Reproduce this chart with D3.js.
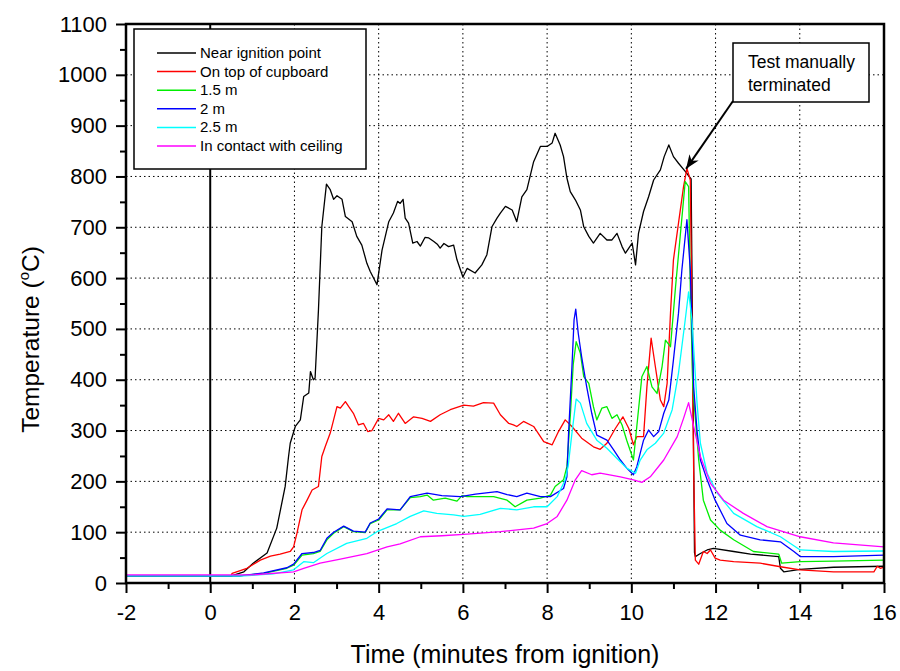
<!DOCTYPE html>
<html><head><meta charset="utf-8">
<script src="https://cdn.jsdelivr.net/npm/d3@7"></script>
<style>
body{margin:0;background:#fff;}
svg{display:block;font-family:"Liberation Sans",Arial,sans-serif;}
</style></head>
<body><svg id="c" width="900" height="671"></svg>
<script>
// ---- data: [time (min), temperature (°C)] ----
const nearIgnition = [[-2,14],[0.5,14],[0.8,22],[1.02,39],[1.35,59],[1.58,108],[1.78,190],[1.86,249],[1.9,275],[2.02,308],[2.14,321],[2.22,367],[2.34,374],[2.38,416],[2.45,400],[2.49,403],[2.57,537],[2.65,701],[2.76,785],[2.85,774],[2.93,755],[3.01,762],[3.13,755],[3.21,721],[3.37,711],[3.48,682],[3.6,665],[3.72,629],[3.8,613],[3.96,587],[4.08,655],[4.24,711],[4.35,728],[4.45,751],[4.51,747],[4.58,755],[4.63,718],[4.71,708],[4.81,669],[4.91,672],[4.99,663],[5.1,680],[5.19,679],[5.31,672],[5.4,666],[5.46,659],[5.55,668],[5.66,662],[5.78,665],[5.86,636],[6.0,602],[6.1,619],[6.29,610],[6.45,626],[6.57,646],[6.69,701],[6.81,718],[6.89,728],[7.01,741],[7.17,734],[7.28,711],[7.4,760],[7.52,774],[7.68,829],[7.84,859],[8.0,859],[8.12,866],[8.19,885],[8.31,862],[8.39,839],[8.47,797],[8.55,770],[8.67,754],[8.79,734],[8.87,701],[8.99,682],[9.1,669],[9.26,688],[9.42,675],[9.54,675],[9.66,688],[9.78,662],[9.86,649],[9.94,659],[10.02,669],[10.1,626],[10.17,688],[10.29,731],[10.41,760],[10.53,793],[10.69,813],[10.78,839],[10.89,862],[11.0,839],[11.12,826],[11.28,810],[11.42,795],[11.5,60],[11.52,52],[11.64,58],[11.8,65],[11.95,68],[12.43,62],[12.83,57],[13.5,52],[13.54,29],[13.62,22],[14.01,27],[14.8,31],[16,33]];
const onCupboard = [[-2,14],[0.5,15],[0.52,19],[0.87,29],[1.19,45],[1.43,53],[1.66,57],[1.9,62],[1.98,71],[2.06,98],[2.18,144],[2.3,163],[2.42,183],[2.57,190],[2.65,249],[2.73,268],[2.85,295],[2.93,321],[3.01,347],[3.09,344],[3.21,357],[3.29,347],[3.4,334],[3.52,311],[3.64,314],[3.74,298],[3.84,300],[4.0,324],[4.12,321],[4.24,331],[4.35,318],[4.47,334],[4.63,314],[4.83,327],[5.03,324],[5.23,318],[5.46,331],[5.7,341],[6.02,350],[6.25,348],[6.49,355],[6.73,354],[6.89,331],[7.09,314],[7.2,311],[7.28,308],[7.44,318],[7.68,308],[7.92,278],[8.12,272],[8.27,298],[8.43,321],[8.59,308],[8.82,285],[9.1,268],[9.26,263],[9.42,275],[9.62,304],[9.8,327],[9.94,304],[10.05,272],[10.13,288],[10.29,288],[10.37,386],[10.47,482],[10.57,426],[10.69,360],[10.77,347],[10.85,393],[10.93,531],[11.0,636],[11.12,708],[11.24,780],[11.32,816],[11.4,793],[11.44,518],[11.48,222],[11.52,45],[11.6,37],[11.71,62],[11.8,58],[11.88,65],[11.99,49],[12.11,45],[12.43,42],[13.06,39],[13.54,32],[14.01,26],[14.8,22],[15.76,22],[15.84,33],[15.91,29],[16,31]];
const m15 = [[-2,14],[0.7,14],[1.27,19],[1.82,29],[1.98,35],[2.18,55],[2.45,58],[2.61,62],[2.77,85],[2.93,98],[3.17,111],[3.4,101],[3.68,99],[3.8,117],[4.0,124],[4.2,144],[4.51,144],[4.75,168],[4.99,170],[5.15,173],[5.3,163],[5.58,167],[5.86,161],[5.98,172],[6.1,170],[6.41,170],[6.73,170],[7.05,163],[7.24,150],[7.52,163],[7.84,167],[8.08,173],[8.19,190],[8.39,203],[8.47,229],[8.55,327],[8.62,430],[8.69,475],[8.79,452],[8.87,406],[8.99,393],[9.1,347],[9.18,321],[9.3,344],[9.42,347],[9.54,324],[9.66,331],[9.78,311],[9.89,281],[10.05,242],[10.13,308],[10.25,406],[10.37,426],[10.49,386],[10.61,373],[10.73,426],[10.81,478],[10.93,465],[11.05,583],[11.16,682],[11.28,790],[11.36,780],[11.4,583],[11.46,386],[11.6,242],[11.71,163],[11.88,124],[12.11,104],[12.43,85],[12.9,62],[13.5,57],[13.57,39],[14.01,42],[14.8,43],[16,45]];
const m2 = [[-2,14],[0.7,14],[1.27,20],[1.82,30],[1.98,37],[2.18,58],[2.45,60],[2.61,64],[2.77,88],[2.93,100],[3.17,112],[3.4,102],[3.68,100],[3.8,118],[4.0,126],[4.2,146],[4.51,144],[4.75,170],[5.15,177],[5.5,172],[5.94,170],[6.3,175],[6.81,180],[7.05,174],[7.28,170],[7.52,177],[7.84,170],[8.08,170],[8.39,186],[8.47,209],[8.51,295],[8.59,426],[8.64,518],[8.68,539],[8.74,491],[8.82,445],[8.94,386],[9.06,334],[9.18,291],[9.42,281],[9.58,262],[9.74,242],[9.89,226],[10.05,213],[10.13,229],[10.21,255],[10.29,281],[10.41,301],[10.53,288],[10.65,298],[10.77,334],[10.89,360],[11.0,439],[11.12,531],[11.2,616],[11.32,715],[11.4,616],[11.48,386],[11.56,300],[11.64,242],[11.8,203],[11.99,163],[12.27,117],[12.59,94],[13.06,85],[13.54,81],[13.86,62],[14.01,52],[14.8,52],[16,55]];
const m25 = [[-2,14],[0.8,14],[1.5,18],[1.98,26],[2.22,42],[2.45,40],[2.77,58],[3.24,78],[3.72,88],[3.96,101],[4.43,117],[4.75,131],[5.07,142],[5.38,137],[5.78,134],[6.02,131],[6.41,135],[6.89,147],[7.28,144],[7.68,150],[8.0,150],[8.24,170],[8.43,203],[8.5,230],[8.59,295],[8.69,362],[8.79,354],[8.94,314],[9.18,281],[9.42,265],[9.66,245],[9.89,226],[10.1,216],[10.21,242],[10.37,262],[10.57,275],[10.77,295],[10.97,341],[11.12,413],[11.28,518],[11.36,573],[11.44,518],[11.56,354],[11.64,275],[11.8,216],[12.04,177],[12.43,137],[12.98,111],[13.54,91],[14.01,65],[14.8,62],[16,63]];
const ceiling = [[-2,16],[1.0,16],[1.98,22],[2.22,29],[2.61,39],[3.09,47],[3.72,58],[4.2,71],[4.51,77],[4.99,91],[5.5,93],[6.1,96],[6.89,101],[7.68,108],[8.0,117],[8.24,131],[8.47,163],[8.67,203],[8.82,221],[9.06,213],[9.26,216],[9.74,209],[10.05,203],[10.25,198],[10.45,209],[10.77,242],[11.09,288],[11.24,324],[11.36,355],[11.48,308],[11.64,249],[11.88,196],[12.19,163],[12.66,137],[13.22,111],[14.01,91],[14.8,79],[16,71]];

const seriesNames = ["Near ignition point","On top of cupboard","1.5 m","2 m","2.5 m","In contact with ceiling"];
const seriesData = [nearIgnition, onCupboard, m15, m2, m25, ceiling];
const seriesColors = ["#000000","#ff0000","#00ee00","#0000ff","#00ffff","#ff00ff"];
const xTicks = [-2,0,2,4,6,8,10,12,14,16];
const yTicks = [0,100,200,300,400,500,600,700,800,900,1000,1100];
const annotationText = ["Test manually","terminated"];
const annotationTarget = [11.3, 815];

// ---- drawing ----
const svg = d3.select("#c");
const L=126,R=884,T=24,B=583;
const x = d3.scaleLinear().domain([-2,16]).range([L,R]);
const y = d3.scaleLinear().domain([0,1100]).range([B,T]);

// grid
const grid = svg.append("g");
grid.selectAll("line.gx").data(xTicks.filter(d=>d>-2&&d<16&&d!==0)).enter().append("line")
  .attr("x1",d=>x(d)).attr("x2",d=>x(d)).attr("y1",T).attr("y2",B)
  .attr("stroke","#000").attr("stroke-width",1).attr("stroke-dasharray","1.5,3");
grid.selectAll("line.gy").data(yTicks.filter(d=>d>0&&d<1100)).enter().append("line")
  .attr("y1",d=>y(d)).attr("y2",d=>y(d)).attr("x1",L).attr("x2",R)
  .attr("stroke","#000").attr("stroke-width",1).attr("stroke-dasharray","1.5,3");
// zero line
svg.append("line").attr("x1",x(0)).attr("x2",x(0)).attr("y1",T).attr("y2",B).attr("stroke","#000").attr("stroke-width",2);

// series
const line = d3.line().x(d=>x(d[0])).y(d=>y(d[1]));
svg.append("g").selectAll("path").data(seriesData).enter().append("path")
  .attr("d",line).attr("fill","none").attr("stroke",(d,i)=>seriesColors[i]).attr("stroke-width",1.3)
  .attr("stroke-linejoin","round");

// axes
const fmt = d => String(d);
const xAxis = svg.append("g").attr("transform",`translate(0,${B})`)
  .call(d3.axisBottom(x).tickValues(xTicks).tickSize(10).tickPadding(11).tickFormat(fmt));
const xMinor = svg.append("g").attr("transform",`translate(0,${B})`)
  .call(d3.axisBottom(x).tickValues(d3.range(-1,16,2)).tickSize(6).tickFormat(""));
const yAxis = svg.append("g").attr("transform",`translate(${L},0)`)
  .call(d3.axisLeft(y).tickValues(yTicks).tickSize(10).tickPadding(9).tickFormat(fmt));
const yMinor = svg.append("g").attr("transform",`translate(${L},0)`)
  .call(d3.axisLeft(y).tickValues(d3.range(50,1100,100)).tickSize(6).tickFormat(""));
[xAxis,xMinor,yAxis,yMinor].forEach(g=>{
  g.select(".domain").remove();
  g.selectAll(".tick line").attr("stroke","#000").attr("stroke-width",2);
  g.selectAll("text").attr("fill","#000").attr("font-size",22).attr("font-family","'Liberation Sans',Arial,sans-serif");
});
// frame
svg.append("rect").attr("x",L).attr("y",T).attr("width",R-L).attr("height",B-T)
  .attr("fill","none").attr("stroke","#000").attr("stroke-width",2.5);

// axis titles
svg.append("text").attr("x",(L+R)/2).attr("y",663).attr("text-anchor","middle")
  .attr("font-size",25).text("Time (minutes from ignition)");
const yt = svg.append("text").attr("transform",`translate(39,${(T+B)/2+36}) rotate(-90)`)
  .attr("text-anchor","middle").attr("font-size",24.5);
yt.append("tspan").text("Temperature (");
yt.append("tspan").attr("font-size",15).attr("dy",-10).text("o");
yt.append("tspan").attr("dy",10).text("C)");

// legend
const lg = svg.append("g");
lg.append("rect").attr("x",134).attr("y",29).attr("width",232).attr("height",140)
  .attr("fill","#fff").attr("stroke","#000").attr("stroke-width",1.5);
seriesNames.forEach((n,i)=>{
  const yy = 53 + i*18.6;
  lg.append("line").attr("x1",157).attr("x2",196).attr("y1",yy).attr("y2",yy)
    .attr("stroke",seriesColors[i]).attr("stroke-width",1.5);
  lg.append("text").attr("x",200).attr("y",yy+5).attr("font-size",15).text(n);
});

// annotation
svg.append("defs").append("marker").attr("id","ah").attr("viewBox","0 0 10 10")
  .attr("refX",10).attr("refY",5).attr("markerWidth",7).attr("markerHeight",7).attr("orient","auto")
  .append("path").attr("d","M0,1 L10,5 L0,9 L3,5 Z").attr("fill","#000");
svg.append("line").attr("x1",733).attr("y1",101).attr("x2",x(annotationTarget[0])).attr("y2",y(annotationTarget[1]))
  .attr("stroke","#000").attr("stroke-width",2).attr("marker-end","url(#ah)");
svg.append("rect").attr("x",733).attr("y",43).attr("width",136).attr("height",59)
  .attr("fill","#fff").attr("stroke","#000").attr("stroke-width",1.5);
annotationText.forEach((t,i)=>{
  svg.append("text").attr("x",748).attr("y",68+i*23).attr("font-size",17.5).text(t);
});
</script></body></html>
